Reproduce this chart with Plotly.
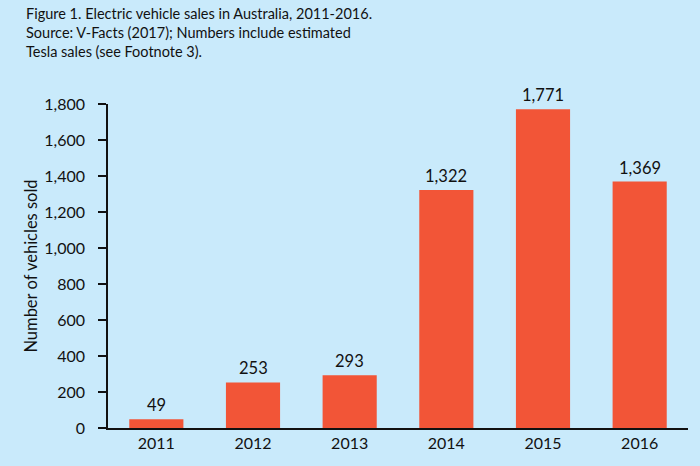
import plotly.graph_objects as go

years = ["2011", "2012", "2013", "2014", "2015", "2016"]
sales = [49, 253, 293, 1322, 1771, 1369]
labels = ["49", "253", "293", "1,322", "1,771", "1,369"]
y_ticks = [0, 200, 400, 600, 800, 1000, 1200, 1400, 1600, 1800]
y_tick_text = ["0", "200", "400", "600", "800", "1,000", "1,200", "1,400", "1,600", "1,800"]

bg = "#c9eafb"
bar_color = "#f25537"
font_fam = "Lato, 'Open Sans', sans-serif"

W, H = 700, 466
ML, MR, MT, MB = 108, 12, 104, 38
PW, PH = W - ML - MR, H - MT - MB

fig = go.Figure(go.Bar(
    x=years, y=sales,
    marker=dict(color=bar_color, line=dict(width=0)),
))

annotations = [dict(
    text="Figure 1. Electric vehicle sales in Australia, 2011-2016.<br>"
         "Source: V-Facts (2017); Numbers include estimated<br>"
         "Tesla sales (see Footnote 3).",
    xref="paper", yref="paper", x=(24 - ML) / PW, y=1 + (MT - 3) / PH,
    xanchor="left", yanchor="top", align="left", showarrow=False,
    font=dict(size=14.5, color="#111111", family=font_fam),
)]
# value labels: category axis positions are category indices
for i, (v, lab) in enumerate(zip(sales, labels)):
    annotations.append(dict(
        x=i, y=v, xref="x", yref="y", text=lab, showarrow=False,
        xanchor="center", yanchor="bottom", yshift=2,
        font=dict(size=16.5, color="#111111", family=font_fam),
    ))

fig.update_layout(
    width=W, height=H,
    paper_bgcolor=bg, plot_bgcolor=bg,
    margin=dict(l=ML, r=MR, t=MT, b=MB),
    bargap=0.44,
    showlegend=False,
    font=dict(family=font_fam, size=16, color="#111111"),
    annotations=annotations,
)
fig.update_xaxes(
    type="category", categoryorder="array", categoryarray=years,
    range=[-0.5, len(years) - 0.5],
    showline=True, linecolor="#111111", linewidth=1.5,
    ticks="", showgrid=False, tickfont=dict(size=16),
)
fig.update_yaxes(
    range=[0, 1800], tickvals=y_ticks, ticktext=y_tick_text,
    showline=True, linecolor="#111111", linewidth=1.5,
    ticks="outside", ticklen=8, tickwidth=1.5, tickcolor="#111111",
    ticklabelstandoff=10,
    showgrid=False, zeroline=False, tickfont=dict(size=16),
    title=dict(text="Number of vehicles sold", font=dict(size=16.5), standoff=3),
)

fig.write_html(
    "out.html",
    config={"displayModeBar": False},
    post_script="document.body.style.margin='0';document.body.style.overflow='hidden';",
)
